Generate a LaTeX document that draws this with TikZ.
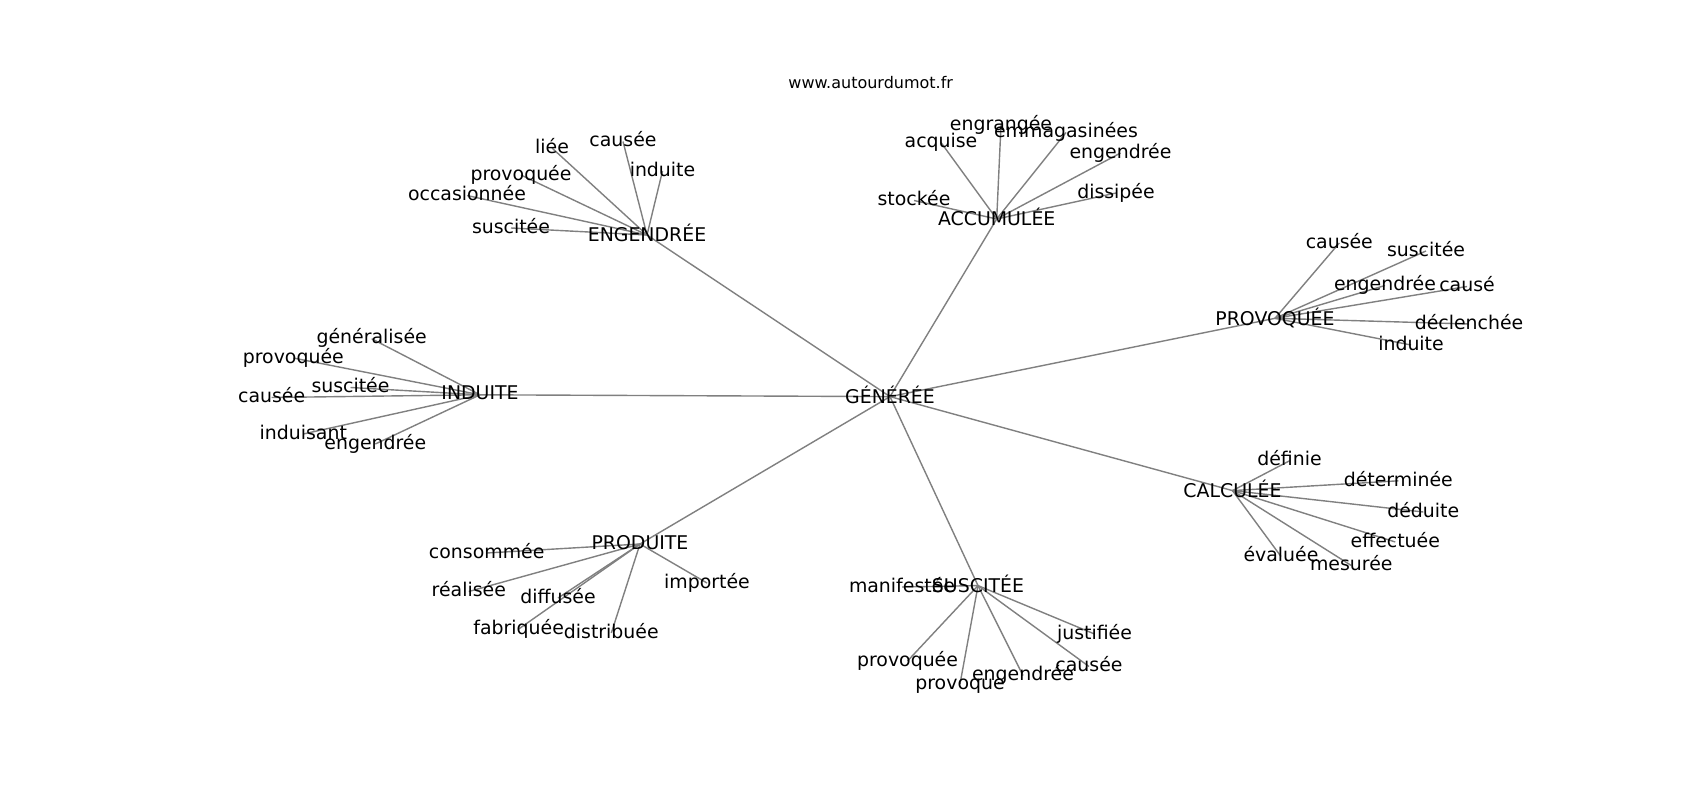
\documentclass[tikz,border=0pt]{standalone}
\usepackage{fontspec}
\setmainfont{DejaVu Sans}
\pgfdeclarelayer{bg}
\pgfdeclarelayer{edges}
\pgfsetlayers{bg,edges,main}
\tikzset{
  lbl/.style={font=\fontsize{18.9}{22}\selectfont, text height=14.36pt, text depth=3.97pt, inner sep=0pt, anchor=center},
  hub/.style={lbl, text height=17.39pt},
  edge/.style={draw=gray, line width=1.4pt},
  ttl/.style={font=\fontsize{16}{19}\selectfont, inner sep=0pt, anchor=base}
}
\newcommand\nd[5][lbl]{\node[#1] (#2) at (#3,#4) {#5};}
\begin{document}
\begin{tikzpicture}[x=1pt,y=-1pt]
\begin{pgfonlayer}{bg}
\path[fill=white] (0,0) rectangle (1700,800);
\end{pgfonlayer}
\useasboundingbox (0,0) rectangle (1700,800);
\node[ttl] (title) at (870.7,88.3) {www.autourdumot.fr};
% centre
\nd[hub]{g}{890}{396.6}{GÉNÉRÉE}
% ENGENDREE
\nd[hub]{eng}{647}{235}{ENGENDRÉE}
\nd{eA}{552}{148}{liée}
\nd{eB}{623}{141.5}{causée}
\nd{eC}{662.5}{171}{induite}
\nd{eD}{521}{175}{provoquée}
\nd{eE}{467}{195.5}{occasionnée}
\nd{eF}{511}{228}{suscitée}
% ACCUMULEE
\nd[hub]{acc}{996.7}{219}{ACCUMULÉE}
\nd{aA}{1001}{125}{engrangée}
\nd{aB}{1066}{132.5}{emmagasinées}
\nd{aC}{941}{142.5}{acquise}
\nd{aD}{1120.5}{153}{engendrée}
\nd{aE}{914}{200.5}{stockée}
\nd{aF}{1116}{193}{dissipée}
% PROVOQUEE
\nd[hub]{pro}{1275}{318.3}{PROVOQUÉE}
\nd{pA}{1339.3}{243}{causée}
\nd{pB}{1426}{251}{suscitée}
\nd{pC}{1385}{285.5}{engendrée}
\nd{pD}{1467}{286.5}{causé}
\nd{pE}{1469}{324}{déclenchée}
\nd{pF}{1411}{345}{induite}
% INDUITE
\nd{ind}{480}{394.8}{INDUITE}
\nd{iA}{371.7}{338.8}{généralisée}
\nd{iB}{293.3}{358}{provoquée}
\nd{iC}{350.5}{387.5}{suscitée}
\nd{iD}{271.7}{397.5}{causée}
\nd{iE}{303.3}{434}{induisant}
\nd{iF}{375.3}{444}{engendrée}
% CALCULEE
\nd[hub]{cal}{1232.5}{490.6}{CALCULÉE}
\nd{cA}{1289.5}{460.8}{définie}
\nd{cB}{1398.3}{480.8}{déterminée}
\nd{cC}{1423.3}{512}{déduite}
\nd{cD}{1395.3}{542}{effectuée}
\nd{cE}{1281}{556.5}{évaluée}
\nd{cF}{1351.3}{565.5}{mesurée}
% PRODUITE
\nd{prd}{640}{544}{PRODUITE}
\nd{dA}{486.7}{553}{consommée}
\nd{dB}{468.8}{591.5}{réalisée}
\nd{dC}{558}{598}{diffusée}
\nd{dD}{707}{583}{importée}
\nd{dE}{518.7}{629}{fabriquée}
\nd{dF}{611.3}{633}{distribuée}
% SUSCITEE
\nd[hub]{sus}{978}{585.6}{SUSCITÉE}
\nd{sA}{902}{587}{manifestée}
\nd{sB}{1094.5}{634}{justifiée}
\nd{sC}{907.5}{661}{provoquée}
\nd{sD}{960}{684}{provoque}
\nd{sE}{1023}{675.5}{engendrée}
\nd{sF}{1089}{666.5}{causée}
\begin{pgfonlayer}{edges}
\foreach \h in {eng,acc,pro,ind,cal,prd,sus}
  \draw[edge] (g.center) -- (\h.center);
\foreach \h/\p in {eng/e,acc/a,pro/p,ind/i,cal/c,prd/d,sus/s}
  \foreach \k in {A,B,C,D,E,F}
    \draw[edge] (\h.center) -- (\p\k.center);
\end{pgfonlayer}
\end{tikzpicture}
\end{document}
